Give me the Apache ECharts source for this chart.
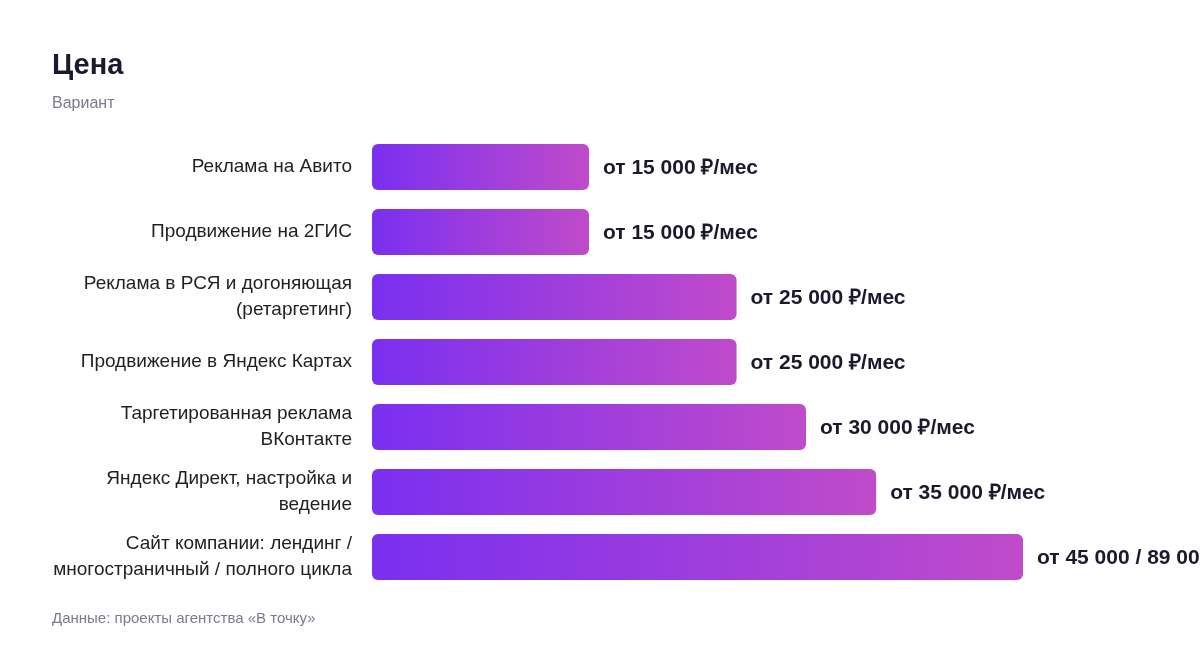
<!DOCTYPE html>
<html>
<head>
<meta charset="utf-8">
<script src="https://cdn.jsdelivr.net/npm/echarts@6/dist/echarts.min.js"></script>
<style>
html,body{margin:0;padding:0;background:#fff;}
#c{width:1200px;height:648px;}
</style>
</head>
<body>
<div id="c"></div>
<script>
var categories = [
  "Реклама на Авито",
  "Продвижение на 2ГИС",
  "Реклама в РСЯ и догоняющая\n(ретаргетинг)",
  "Продвижение в Яндекс Картах",
  "Таргетированная реклама\nВКонтакте",
  "Яндекс Директ, настройка и\nведение",
  "Сайт компании: лендинг /\nмногостраничный / полного цикла"
];
var values = [15000, 15000, 25200, 25200, 30000, 34850, 45000];
var valueLabels = [
  "от 15 000 ₽/мес",
  "от 15 000 ₽/мес",
  "от 25 000 ₽/мес",
  "от 25 000 ₽/мес",
  "от 30 000 ₽/мес",
  "от 35 000 ₽/мес",
  "от 45 000 / 89 000 ₽"
];
var titleText = "Цена";
var subtitleText = "Вариант";
var sourceText = "Данные: проекты агентства «В точку»";

var chart = echarts.init(document.getElementById('c'), null, {renderer: 'canvas'});
var font = 'Liberation Sans';
chart.setOption({
  backgroundColor: '#ffffff',
  animation: false,
  title: [
    {text: titleText, left: 52, top: 51, padding: 0, textStyle: {fontFamily: font, fontSize: 29, fontWeight: 'bold', color: '#1a1a2e'}},
    {text: subtitleText, left: 52, top: 96, padding: 0, textStyle: {fontFamily: font, fontSize: 16, fontWeight: 'normal', color: '#7a7a8c'}},
    {text: sourceText, left: 52, top: 611, padding: 0, textStyle: {fontFamily: font, fontSize: 15, fontWeight: 'normal', color: '#7a7a8c'}}
  ],
  grid: {left: 372, right: 177, top: 134.5, bottom: 58.5, containLabel: false},
  xAxis: {
    type: 'value', min: 0, max: 45000, show: false
  },
  yAxis: {
    type: 'category', data: categories, inverse: true,
    axisLine: {show: false}, axisTick: {show: false}, splitLine: {show: false},
    axisLabel: {margin: 20, fontFamily: font, fontSize: 19, color: '#1f1f24', lineHeight: 26, align: 'right', padding: [2, 0, 0, 0]}
  },
  series: [{
    type: 'bar',
    data: values,
    barWidth: 46,
    itemStyle: {
      borderRadius: 6,
      color: new echarts.graphic.LinearGradient(0, 0, 1, 0, [
        {offset: 0, color: '#7a2ff0'},
        {offset: 1, color: '#c04bca'}
      ])
    },
    label: {
      show: true, position: 'right', distance: 14, offset: [0, 1],
      formatter: function (p) { return valueLabels[p.dataIndex]; },
      fontFamily: font, fontSize: 21, fontWeight: 'bold', color: '#1a1a2e'
    }
  }]
});
</script>
</body>
</html>
